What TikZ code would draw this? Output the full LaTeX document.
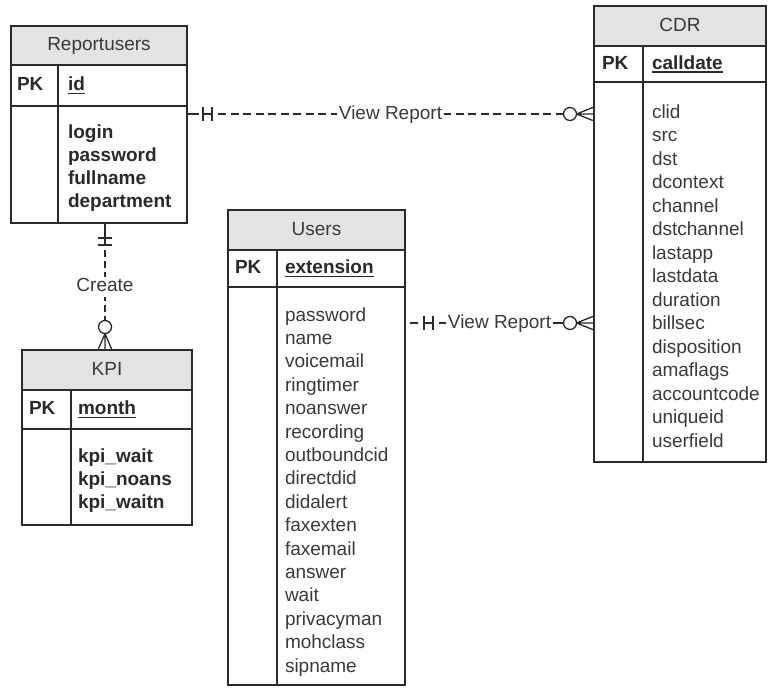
\documentclass[tikz,border=0pt]{standalone}
\usepackage{fontspec}
\setmainfont{Liberation Sans}
\usetikzlibrary{calc}
\definecolor{ink}{HTML}{2A2A2A}
\definecolor{soft}{HTML}{3A3A3A}
\definecolor{headfill}{HTML}{E3E3E3}
\tikzset{
  rowbox/.style={draw=ink, line width=1.6pt, inner sep=0pt, outer sep=0pt, anchor=north west},
  headbox/.style={rowbox, fill=headfill},
  rule/.style={draw=ink, line width=1.6pt},
  uline/.style={draw=ink, line width=1.3pt},
  basetxt/.style={inner sep=0pt, outer sep=0pt, text height=14pt, text depth=4pt},
  titletxt/.style={basetxt, text=soft, font=\fontsize{19}{23}\selectfont},
  plaintxt/.style={basetxt, anchor=west, text=soft, font=\fontsize{19}{23}\selectfont},
  boldtxt/.style={basetxt, anchor=west, text=ink, font=\fontsize{19}{23}\selectfont\bfseries},
  link/.style={draw=ink, line width=1.3pt},
  dashlink/.style={link, dash pattern=on 8pt off 4.5pt},
  vdashlink/.style={link, dash pattern=on 7pt off 4pt},
  linklabel/.style={basetxt, text=soft, fill=white, inner xsep=1.5pt, font=\fontsize{19}{23}\selectfont},
  optcircle/.style={circle, draw=ink, line width=1.3pt, fill=white, minimum size=13pt, inner sep=0pt, outer sep=0pt},
}
\begin{document}
\begin{tikzpicture}[x=1pt, y=-1pt]
\fill[white] (0,0) rectangle (769,688);
\useasboundingbox (0,0) rectangle (769,688);

% ---------- Reportusers ----------
\node[headbox, minimum width=176pt, minimum height=39pt] (ru-head) at (11,26) {};
\node[titletxt] (ru-title) at (ru-head.center) {Reportusers};
\node[rowbox, minimum width=176pt, minimum height=41pt] (ru-pk) at (ru-head.south west) {};
\node[rowbox, minimum width=176pt, minimum height=117pt] (ru-body) at (ru-pk.south west) {};
\draw[rule] ($(ru-pk.north west)+(47,0)$) -- ($(ru-body.south west)+(47,0)$);
\node[boldtxt] (ru-pkl) at ($(ru-pk.west)+(6,0)$) {PK};
\node[boldtxt] (ru-key) at ($(ru-pk.west)+(57,0)$) {id};
\draw[uline] ($(ru-key.south west)+(0,-1)$) -- ($(ru-key.south east)+(0,-1)$);
\foreach \t [count=\i from 0] in {login,password,fullname,department}
  \node[boldtxt] (ru-f\i) at ($(ru-body.north west)+(57,27+23*\i)$) {\t};

% ---------- KPI ----------
\node[headbox, minimum width=170pt, minimum height=40pt] (kpi-head) at (22,350) {};
\node[titletxt] (kpi-title) at (kpi-head.center) {KPI};
\node[rowbox, minimum width=170pt, minimum height=39pt] (kpi-pk) at (kpi-head.south west) {};
\node[rowbox, minimum width=170pt, minimum height=96pt] (kpi-body) at (kpi-pk.south west) {};
\draw[rule] ($(kpi-pk.north west)+(49,0)$) -- ($(kpi-body.south west)+(49,0)$);
\node[boldtxt] (kpi-pkl) at ($(kpi-pk.west)+(7,0)$) {PK};
\node[boldtxt] (kpi-key) at ($(kpi-pk.west)+(56,0)$) {month};
\draw[uline] ($(kpi-key.south west)+(0,-1)$) -- ($(kpi-key.south east)+(0,-1)$);
\foreach \t [count=\i from 0] in {kpi\_wait,kpi\_noans,kpi\_waitn}
  \node[boldtxt] (kpi-f\i) at ($(kpi-body.north west)+(56,28+23*\i)$) {\t};

% ---------- Users ----------
\node[headbox, minimum width=177pt, minimum height=40pt] (us-head) at (228,210) {};
\node[titletxt] (us-title) at (us-head.center) {Users};
\node[rowbox, minimum width=177pt, minimum height=37pt] (us-pk) at (us-head.south west) {};
\node[rowbox, minimum width=177pt, minimum height=398pt] (us-body) at (us-pk.south west) {};
\draw[rule] ($(us-pk.north west)+(49,0)$) -- ($(us-body.south west)+(49,0)$);
\node[boldtxt] (us-pkl) at ($(us-pk.west)+(7,0)$) {PK};
\node[boldtxt] (us-key) at ($(us-pk.west)+(57,0)$) {extension};
\draw[uline] ($(us-key.south west)+(0,-1)$) -- ($(us-key.south east)+(0,-1)$);
\foreach \t [count=\i from 0] in {password,name,voicemail,ringtimer,noanswer,recording,
    outboundcid,directdid,didalert,faxexten,faxemail,answer,wait,privacyman,mohclass,sipname}
  \node[plaintxt] (us-f\i) at ($(us-body.north west)+(57,29+23.4*\i)$) {\t};

% ---------- CDR ----------
\node[headbox, minimum width=172pt, minimum height=40pt] (cdr-head) at (594,6) {};
\node[titletxt] (cdr-title) at (cdr-head.center) {CDR};
\node[rowbox, minimum width=172pt, minimum height=36pt] (cdr-pk) at (cdr-head.south west) {};
\node[rowbox, minimum width=172pt, minimum height=380pt] (cdr-body) at (cdr-pk.south west) {};
\draw[rule] ($(cdr-pk.north west)+(49,0)$) -- ($(cdr-body.south west)+(49,0)$);
\node[boldtxt] (cdr-pkl) at ($(cdr-pk.west)+(8,0)$) {PK};
\node[boldtxt] (cdr-key) at ($(cdr-pk.west)+(58,0)$) {calldate};
\draw[uline] ($(cdr-key.south west)+(0,-1)$) -- ($(cdr-key.south east)+(0,-1)$);
\foreach \t [count=\i from 0] in {clid,src,dst,dcontext,channel,dstchannel,lastapp,lastdata,
    duration,billsec,disposition,amaflags,accountcode,uniqueid,userfield}
  \node[plaintxt] (cdr-f\i) at ($(cdr-body.north west)+(58,31+23.5*\i)$) {\t};

% ---------- Reportusers -- CDR : View Report ----------
\coordinate (y1) at (0,114);
\coordinate (r1a) at (ru-body.east |- y1);
\coordinate (r1b) at (cdr-body.west |- y1);
\draw[link] (r1a) -- ++(12,0);
\draw[link] ($(r1a)+(16,-7)$) -- ++(0,14) ($(r1a)+(25,-7)$) -- ++(0,14) ($(r1a)+(16,0)$) -- ++(9,0);
\draw[dashlink] ($(r1a)+(31,0)$) -- ($(r1b)+(-30,0)$);
\node[linklabel] (r1lab) at ($(r1a)!0.5!(r1b)$) {View Report};
\node[optcircle] (r1o) at ($(r1b)+(-24,0)$) {};
\draw[link] (r1o.east) -- (r1b) (r1o.east) -- ($(r1b)+(0,-7)$) (r1o.east) -- ($(r1b)+(0,7)$);

% ---------- Users -- CDR : View Report ----------
\coordinate (y2) at (0,323);
\coordinate (r2a) at (us-body.east |- y2);
\coordinate (r2b) at (cdr-body.west |- y2);
\draw[link] ($(r2a)+(5,0)$) -- ++(8,0);
\draw[link] ($(r2a)+(19,-7)$) -- ++(0,14) ($(r2a)+(28,-7)$) -- ++(0,14) ($(r2a)+(19,0)$) -- ++(9,0);
\node[linklabel] (r2lab) at ($(r2a)!0.5!(r2b)$) {View Report};
\draw[link] ($(r2a)+(34,0)$) -- (r2lab.west);
\node[optcircle] (r2o) at ($(r2b)+(-24,0)$) {};
\draw[link] (r2lab.east) -- (r2o.west);
\draw[link] (r2o.east) -- (r2b) (r2o.east) -- ($(r2b)+(0,-7)$) (r2o.east) -- ($(r2b)+(0,7)$);

% ---------- Reportusers -- KPI : Create ----------
\coordinate (x3) at (105,0);
\coordinate (r3a) at (ru-body.south -| x3);
\coordinate (r3b) at (kpi-head.north -| x3);
\draw[link] (r3a) -- ++(0,22);
\draw[link] ($(r3a)+(-7,15)$) -- ++(14,0) ($(r3a)+(-7,22)$) -- ++(14,0);
\draw[vdashlink] ($(r3a)+(0,27)$) -- ($(r3b)+(0,-29)$);
\node[linklabel, inner ysep=1pt] (r3lab) at ($(r3a)!0.5!(r3b)$) {Create};
\node[optcircle] (r3o) at ($(r3b)+(0,-23)$) {};
\draw[link] (r3o.south) -- (r3b) (r3o.south) -- ($(r3b)+(-7,0)$) (r3o.south) -- ($(r3b)+(7,0)$);
\end{tikzpicture}
\end{document}
